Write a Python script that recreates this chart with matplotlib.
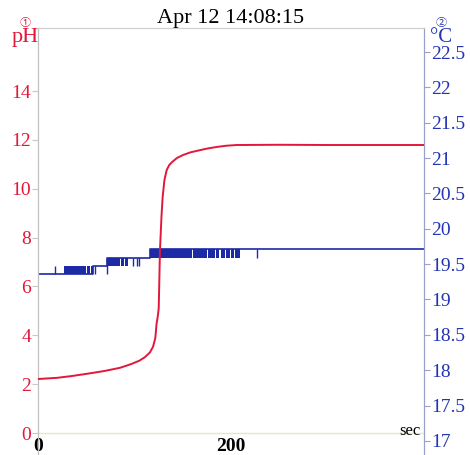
import matplotlib.pyplot as plt
import numpy as np

# pH curve (sec, pH)
ph_t = [0, 20, 34.5, 50, 69, 85, 96.4, 105, 110.6, 116, 119.2, 121.6, 122.8, 124.2, 125.1,
        126.4, 128, 129.2, 131, 133.4, 136, 138.9, 144, 150.3, 158, 167.9, 176,
        185.2, 195, 205.9, 250, 300, 350, 400]
ph_val = [2.21, 2.26, 2.33, 2.42, 2.54, 2.67, 2.82, 2.96, 3.10, 3.30, 3.53, 3.89, 4.45, 4.80, 5.10,
          7.49, 8.90, 9.67, 10.35, 10.77, 10.97, 11.09, 11.26, 11.38, 11.49, 11.58, 11.65,
          11.71, 11.76, 11.79, 11.80, 11.79, 11.79, 11.79]

# temperature base step trace (sec, degC)
temp_t = [0, 57, 71.5, 116, 400]
temp_val = [19.36, 19.48, 19.59, 19.71, 19.71]

# flicker blocks where the reading jumps between two levels
blk_start = [27, 51, 55, 72.5, 86, 90.5, 116, 161, 176, 184, 189.5, 195, 200.5, 204.5]
blk_end = [50, 54, 56.5, 85, 89, 93, 160, 175, 183, 188, 194, 199, 203, 209]
blk_low = [19.36, 19.36, 19.36, 19.48, 19.48, 19.48, 19.59, 19.59, 19.59, 19.59, 19.59, 19.59, 19.59, 19.59]
blk_high = [19.48, 19.48, 19.48, 19.59, 19.59, 19.59, 19.71, 19.71, 19.71, 19.71, 19.71, 19.71, 19.71, 19.71]

# single spikes
spk_t = [17.3, 59.4, 71.5, 98.4, 102.6, 104.7, 226.6]
spk_low = [19.36, 19.36, 19.36, 19.48, 19.48, 19.48, 19.59]
spk_high = [19.48, 19.48, 19.59, 19.59, 19.59, 19.59, 19.71]

ph_ticks = [0, 2, 4, 6, 8, 10, 12, 14]
temp_ticks = [17, 17.5, 18, 18.5, 19, 19.5, 20, 20.5, 21, 21.5, 22, 22.5]
x_ticks = [0, 200]

red = '#e3173a'
blue = '#1c2aa6'
serif = 'Liberation Serif'

fig = plt.figure(figsize=(4.7, 4.55), dpi=100)
ax = fig.add_axes([38 / 470, 0, 386 / 470, 427 / 455])
ax2 = ax.twinx()

ax.plot(ph_t, ph_val, color=red, lw=1.4, zorder=3)
ax.axhline(0, color='#e8e6c0', lw=1.0)
ax.set_xlim(0, 400)
ax.set_ylim(-0.9, 16.58)
ax.set_yticks(ph_ticks)
ax.set_yticklabels([str(v) for v in ph_ticks], fontfamily=serif, fontsize=14, color=red)
ax.set_xticks(x_ticks)
ax.set_xticklabels([str(v) for v in x_ticks], fontfamily=serif, fontsize=14, fontweight='bold')
ax.tick_params(axis='x', length=0, pad=-12)
ax.tick_params(axis='y', length=4, color='#c8c8c8', pad=1)
ax.set_zorder(ax2.get_zorder() + 1)
ax.patch.set_visible(False)

ax2.step(temp_t, temp_val, where='post', color=blue, lw=1.2)
ax2.bar(blk_start, np.array(blk_high) - np.array(blk_low), bottom=blk_low,
        width=np.array(blk_end) - np.array(blk_start), align='edge', color=blue, lw=0)
ax2.vlines(spk_t, spk_low, spk_high, color=blue, lw=1.0)
ax2.set_ylim(16.80, 22.84)
ax2.set_yticks(temp_ticks)
ax2.set_yticklabels([f'{v:g}' for v in temp_ticks], fontfamily=serif, fontsize=14, color='#2233b5')
ax2.tick_params(axis='y', length=4, color='#9aa0c8', pad=1)

for a in (ax, ax2):
    a.spines['bottom'].set_visible(False)
    a.spines['top'].set_color('#d0d0d0')
    a.spines['left'].set_color('#c0c0c0')
    a.spines['right'].set_color('#9aa0c8')

ax.set_title('Apr 12 14:08:15', fontfamily=serif, fontsize=16, pad=3)

circ = ['Liberation Serif', 'Noto Sans CJK JP', 'DejaVu Sans']
ax.text(-0.034, 1.0, '①', transform=ax.transAxes, ha='center', va='bottom',
        color=red, fontsize=8, family=circ)
ax.text(-0.034, 0.977, 'pH', transform=ax.transAxes, ha='center', va='center',
        color=red, fontsize=16, family=serif)
ax.text(1.045, 1.0, '②', transform=ax.transAxes, ha='center', va='bottom',
        color='#2233b5', fontsize=8, family=circ)
ax.text(1.045, 0.977, '°C', transform=ax.transAxes, ha='center', va='center',
        color='#2233b5', fontsize=15, family=serif)
ax.text(0.99, 0.056, 'sec', transform=ax.transAxes, ha='right', va='center',
        fontsize=12, family=serif)

fig.savefig('out.png', dpi=100)
